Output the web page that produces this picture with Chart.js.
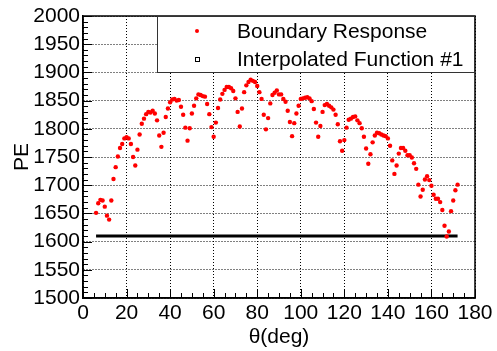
<!DOCTYPE html>
<html>
<head>
<meta charset="utf-8">
<script src="https://cdn.jsdelivr.net/npm/chart.js@4.4.1/dist/chart.umd.min.js"></script>
<style>
  html, body { margin: 0; padding: 0; background: #ffffff; }
  #wrap { width: 497px; height: 351px; }
</style>
</head>
<body>
<div id="wrap"><canvas id="peChart" width="497" height="351"></canvas></div>
<script>
// Boundary response: PE vs theta (deg)
const thetaDeg = [
  6, 7, 8, 9, 10, 11, 12, 13, 14, 15, 16, 17, 18, 19, 20, 21, 22, 23, 24, 25,
  26, 27, 28, 29, 30, 31, 32, 33, 34, 35, 36, 37, 38, 39, 40, 41, 42, 43, 44, 45,
  46, 47, 48, 49, 50, 51, 52, 53, 54, 55, 56, 57, 58, 59, 60, 61, 62, 63, 64, 65,
  66, 67, 68, 69, 70, 71, 72, 73, 74, 75, 76, 77, 78, 79, 80, 81, 82, 83, 84, 85,
  86, 87, 88, 89, 90, 91, 92, 93, 94, 95, 96, 97, 98, 99, 100, 101, 102, 103, 104, 105,
  106, 107, 108, 109, 110, 111, 112, 113, 114, 115, 116, 117, 118, 119, 120, 121, 122, 123, 124, 125,
  126, 127, 128, 129, 130, 131, 132, 133, 134, 135, 136, 137, 138, 139, 140, 141, 142, 143, 144, 145,
  146, 147, 148, 149, 150, 151, 152, 153, 154, 155, 156, 157, 158, 159, 160, 161, 162, 163, 164, 165,
  166, 167, 168, 169, 170, 171, 172
];
const peValues = [
  1651, 1668, 1674, 1673, 1662, 1646, 1639, 1673, 1711, 1732, 1751, 1766, 1773, 1783, 1785, 1783, 1773, 1750, 1735, 1763,
  1790, 1809, 1818, 1826, 1830, 1829, 1832, 1827, 1815, 1788, 1768, 1793, 1821, 1836, 1847, 1852, 1853, 1850, 1851, 1839,
  1825, 1802, 1779, 1801, 1827, 1841, 1854, 1861, 1860, 1858, 1857, 1844, 1826, 1803, 1786, 1811, 1837, 1852, 1862, 1869,
  1874, 1874, 1872, 1867, 1854, 1830, 1804, 1836, 1865, 1877, 1883, 1887, 1885, 1883, 1876, 1865, 1853, 1825, 1799, 1819,
  1845, 1860, 1864, 1868, 1861, 1861, 1853, 1848, 1832, 1812, 1787, 1810, 1827, 1841, 1853, 1854, 1855, 1856, 1854, 1849,
  1835, 1811, 1786, 1805, 1830, 1842, 1844, 1841, 1838, 1834, 1825, 1808, 1778, 1761, 1780, 1802, 1816, 1818, 1821, 1822,
  1815, 1810, 1801, 1786, 1765, 1738, 1755, 1776, 1788, 1793, 1792, 1790, 1788, 1787, 1783, 1770, 1744, 1720, 1735, 1756,
  1766, 1766, 1761, 1753, 1753, 1749, 1739, 1729, 1701, 1680, 1692, 1710, 1716, 1709, 1699, 1683, 1676, 1676, 1670, 1656,
  1628, 1609, 1618, 1654, 1673, 1691, 1701
];

// Interpolated function #1 (flat line)
const fitTheta = [6, 172];
const fitPE = [1610, 1610];

// Axis ranges and tick steps
const xRange = [0, 180];
const yRange = [1500, 2000];
const xSteps = [20, 5];   // major, minor
const ySteps = [50, 10];  // major, minor

const fontFamily = "'Liberation Sans', Arial, Helvetica, sans-serif";

const responsePoints = thetaDeg.map((t, i) => ({ x: t, y: peValues[i] }));
const fitPoints = fitTheta.map((t, i) => ({ x: t, y: fitPE[i] }));

// Inward ticks on left/bottom axes plus a solid frame, like ROOT
const rootFrame = {
  id: "rootFrame",
  afterDatasetsDraw(chart) {
    const { ctx, chartArea: a, scales: { x, y } } = chart;
    ctx.save();
    ctx.strokeStyle = "#000";
    ctx.lineWidth = 1;
    for (let v = xRange[0]; v <= xRange[1]; v += xSteps[1]) {
      const px = Math.round(x.getPixelForValue(v)) + 0.5;
      const len = v % xSteps[0] === 0 ? 9 : 5;
      ctx.beginPath();
      ctx.moveTo(px, a.bottom);
      ctx.lineTo(px, a.bottom - len);
      ctx.stroke();
    }
    for (let v = yRange[0]; v <= yRange[1]; v += ySteps[1]) {
      const py = Math.round(y.getPixelForValue(v)) + 0.5;
      const len = v % ySteps[0] === 0 ? 9 : 5;
      ctx.beginPath();
      ctx.moveTo(a.left, py);
      ctx.lineTo(a.left + len, py);
      ctx.stroke();
    }
    ctx.lineWidth = 1.5;
    ctx.strokeRect(a.left, a.top, a.right - a.left, a.bottom - a.top);
    ctx.restore();
  },
};

// Boxed legend in the top right corner of the frame
const boxLegend = {
  id: "boxLegend",
  afterDraw(chart) {
    const { ctx, chartArea: a } = chart;
    const sets = chart.data.datasets;
    const w = 318, h = 57;
    const left = a.right - w, top = a.top;
    ctx.save();
    ctx.fillStyle = "#fff";
    ctx.fillRect(left, top, w, h);
    ctx.strokeStyle = "#333";
    ctx.lineWidth = 1;
    ctx.strokeRect(left + 0.5, top + 0.5, w - 1, h - 1);

    // red dot
    ctx.fillStyle = sets[0].backgroundColor;
    ctx.beginPath();
    ctx.arc(left + 40, top + 15, 2, 0, 2 * Math.PI);
    ctx.fill();
    // open square
    ctx.strokeStyle = "#000";
    ctx.strokeRect(left + 38.5, top + 41.5, 4, 4);

    ctx.fillStyle = "#000";
    ctx.font = "21px " + fontFamily;
    ctx.textBaseline = "alphabetic";
    ctx.textAlign = "left";
    ctx.fillText(sets[0].label, left + 80, top + 22);
    ctx.fillText(sets[1].label, left + 80, top + 50);
    ctx.restore();
  },
};

new Chart(document.getElementById("peChart"), {
  type: "scatter",
  data: {
    datasets: [
      {
        label: "Boundary Response",
        data: responsePoints,
        backgroundColor: "#ff0000",
        borderColor: "#ff0000",
        pointRadius: 2.2,
        pointBorderWidth: 0,
        showLine: false,
        order: 1,
      },
      {
        label: "Interpolated Function #1",
        data: fitPoints,
        showLine: true,
        borderColor: "#000000",
        backgroundColor: "#000000",
        borderWidth: 3,
        pointRadius: 0,
        order: 2,
      },
    ],
  },
  options: {
    responsive: false,
    animation: false,
    layout: { padding: { top: 16, right: 22, left: 0, bottom: 0 } },
    plugins: {
      legend: { display: false },
      tooltip: { enabled: false },
    },
    scales: {
      x: {
        type: "linear",
        min: xRange[0],
        max: xRange[1],
        afterFit: (scale) => { scale.height = 53; },
        ticks: {
          stepSize: xSteps[0],
          color: "#000",
          padding: 3,
          maxRotation: 0,
          font: { family: fontFamily, size: 21 },
          callback: (v) => String(v),
        },
        grid: { color: "#000", lineWidth: 1, drawTicks: false },
        border: { display: true, color: "#000", width: 1.5, dash: [1, 2] },
        title: {
          display: true,
          text: "θ(deg)",
          color: "#000",
          font: { family: fontFamily, size: 21 },
          padding: { top: 0, bottom: 1 },
        },
      },
      y: {
        type: "linear",
        min: yRange[0],
        max: yRange[1],
        afterFit: (scale) => { scale.width = 83; },
        ticks: {
          stepSize: ySteps[0],
          color: "#000",
          padding: 3,
          font: { family: fontFamily, size: 21 },
          callback: (v) => String(v),
        },
        grid: { color: "#000", lineWidth: 1, drawTicks: false },
        border: { display: true, color: "#000", width: 1.5, dash: [1, 2] },
        title: {
          display: true,
          text: "PE",
          color: "#000",
          font: { family: fontFamily, size: 21 },
          padding: { top: 10, bottom: 0 },
        },
      },
    },
  },
  plugins: [rootFrame, boxLegend],
});
</script>
</body>
</html>
